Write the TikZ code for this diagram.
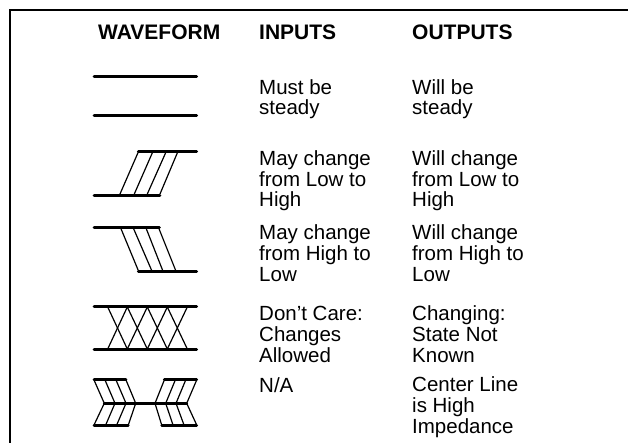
\documentclass[tikz,border=0pt]{standalone}
\usepackage{fontspec}
\setmainfont{Liberation Sans}
\tikzset{
  wave/.style={line width=2.7pt,line cap=round},
  thinwave/.style={line width=1.2pt},
  frame/.style={line width=1.6pt},
  head/.style={font=\fontsize{21}{22}\selectfont\bfseries,anchor=base west,inner sep=0pt},
  cell/.style={font=\fontsize{20.5}{20.7}\selectfont,anchor=base west,inner sep=0pt,align=left},
}
\begin{document}
\begin{tikzpicture}[x=1pt,y=-1pt]
\useasboundingbox (0,0) rectangle (628,443);
\draw[frame] (10,443) -- (10,10) -- (628,10);
\node[head] (h1) at (98,39.5) {WAVEFORM};
\node[head] (h2) at (259,39.5) {INPUTS};
\node[head] (h3) at (412,39.5) {OUTPUTS};
% anchor=base: baseline of the LAST line of each cell
\node[cell] (a1) at (259,115) {Must be\\steady};
\node[cell] (b1) at (412,115) {Will be\\steady};
\node[cell] (a2) at (259,207) {May change\\from Low to\\High};
\node[cell] (b2) at (412,207) {Will change\\from Low to\\High};
\node[cell] (a3) at (259,281) {May change\\from High to\\Low};
\node[cell] (b3) at (412,281) {Will change\\from High to\\Low};
\node[cell] (a4) at (259,362) {Don’t Care:\\Changes\\Allowed};
\node[cell] (b4) at (412,362) {Changing:\\State Not\\Known};
\node[cell] (a5) at (259,392) {N/A};
\node[cell] (b5) at (412,433) {Center Line\\is High\\Impedance};
% steady
\draw[wave] (94,76.3) -- (196.7,76.3);
\draw[wave] (94,115.3) -- (196.7,115.3);
% low to high
\draw[wave] (94,195.3) -- (160,195.3);
\draw[wave] (138.3,151.3) -- (196.7,151.3);
\foreach \i/\j in {120/138.3,134.3/152.7,147.3/166,160/177.7}
  \draw[thinwave] (\i,194) -- (\j,152);
% high to low
\draw[wave] (94,227.3) -- (159.5,227.3);
\draw[wave] (138.3,271.3) -- (196.7,271.3);
\foreach \i/\j in {120.7/138.3,133.3/151.7,146/162.7,158.7/175.7}
  \draw[thinwave] (\i,228) -- (\j,270.5);
% don't care
\draw[wave] (94,306.3) -- (196.7,306.3);
\draw[wave] (94,349.3) -- (196.7,349.3);
\foreach \i/\j in {107.7/127.3,127.3/147.3,147.3/167.3,167.3/187.3}{
  \draw[thinwave] (\i,307) -- (\j,349);
  \draw[thinwave] (\j,307) -- (\i,349);
}
% high impedance
\draw[wave] (94,379.3) -- (126,379.3);
\draw[wave] (164.3,379.3) -- (196.7,379.3);
\draw[wave] (94,425.3) -- (128.3,425.3);
\draw[wave] (161.7,425.3) -- (196.7,425.3);
\draw[wave] (104.3,403.3) -- (186.7,403.3);
\foreach \t/\m/\b in {94/104.3/94,105/115/105.7,116/126/116.7,126/135.7/128.3,
                      196.7/186.7/196.7,185.7/176/184,175.3/165.7/173,164.3/155/161.7}
  \draw[thinwave] (\t,380) -- (\m,403.3) -- (\b,425);
\end{tikzpicture}
\end{document}
